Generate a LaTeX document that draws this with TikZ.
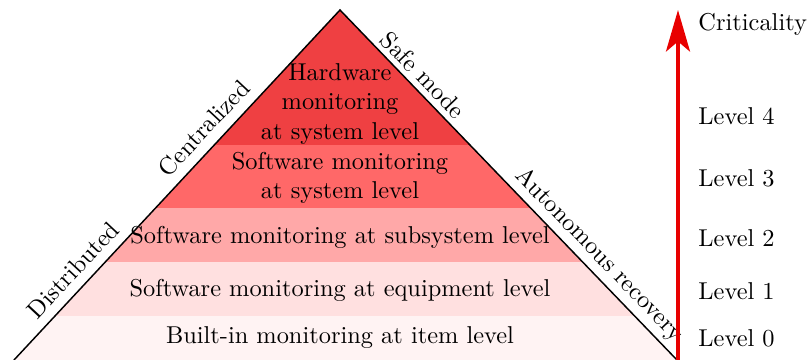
\documentclass[tikz,border=0pt]{standalone}
\usetikzlibrary{arrows.meta}
\definecolor{bandA}{RGB}{239,64,66}
\definecolor{bandB}{RGB}{255,104,104}
\definecolor{bandC}{RGB}{255,168,168}
\definecolor{bandD}{RGB}{255,224,224}
\definecolor{bandE}{RGB}{255,243,243}
\definecolor{arrowred}{RGB}{232,0,0}
\begin{document}
\begin{tikzpicture}[x=0.41pt,y=-0.41pt,
  bandtext/.style={align=center,inner sep=0pt},
  edgelabel/.style={inner sep=0pt},
  leveltext/.style={anchor=west,inner sep=0pt}]
\useasboundingbox (0,0) rectangle (807,360);
\coordinate (apex) at (340,10);
\coordinate (bl) at (14,360);
\coordinate (br) at (677,360);
\begin{scope}
  \clip (apex) -- (bl) -- (br) -- cycle;
  \fill[bandA] (0,0) rectangle (807,145);
  \fill[bandB] (0,145) rectangle (807,207.5);
  \fill[bandC] (0,207.5) rectangle (807,262);
  \fill[bandD] (0,262) rectangle (807,315.5);
  \fill[bandE] (0,315.5) rectangle (807,362);
\end{scope}
\draw[line width=0.6pt] (bl) -- (apex) -- (br);
\node[bandtext] (b4) at (340,104) {Hardware\\monitoring\\at system level};
\node[bandtext] (b3) at (340,178) {Software monitoring\\at system level};
\node[bandtext] (b2) at (340,237) {Software monitoring at subsystem level};
\node[bandtext] (b1) at (340,290) {Software monitoring at equipment level};
\node[bandtext] (b0) at (340,338) {Built-in monitoring at item level};
\node[edgelabel,rotate=47] (dist) at (73,270) {Distributed};
\node[edgelabel,rotate=47] (cent) at (204,128) {Centralized};
\node[edgelabel,rotate=-46] (safe) at (423,75) {Safe mode};
\node[edgelabel,rotate=-46] (auto) at (599,255) {Autonomous recovery};
\coordinate (abot) at (678,362);
\coordinate (atop) at (678,10);
\draw[arrowred,line width=1.75pt,-{Stealth[length=17pt,width=9.8pt,inset=4.1pt]}] (abot) -- (atop);
\node[leveltext] (crit) at (698,24) {Criticality};
\node[leveltext] (l4) at (698,116) {Level 4};
\node[leveltext] (l3) at (698,178) {Level 3};
\node[leveltext] (l2) at (698,238) {Level 2};
\node[leveltext] (l1) at (698,291) {Level 1};
\node[leveltext] (l0) at (698,338) {Level 0};
\end{tikzpicture}
\end{document}
